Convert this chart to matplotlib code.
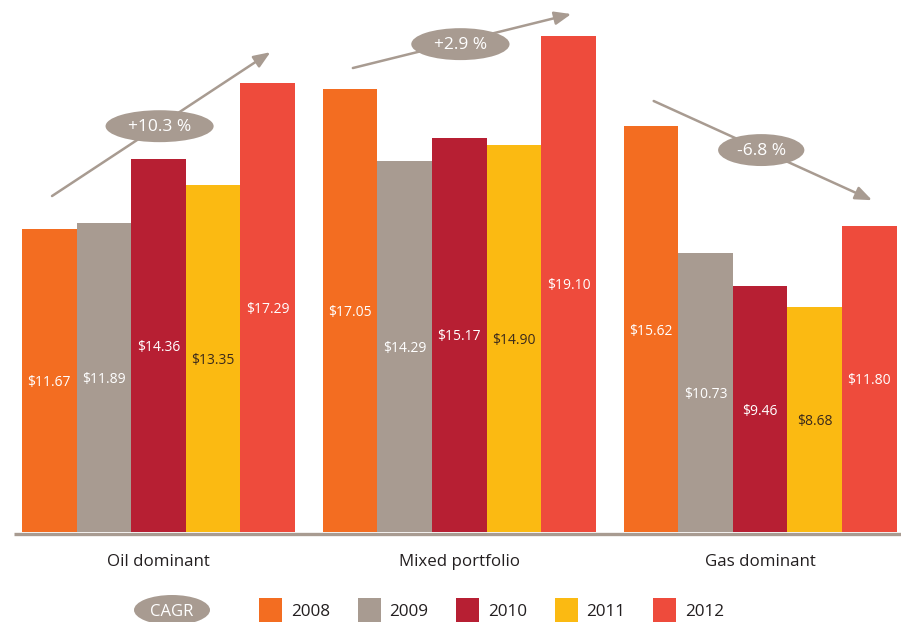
import matplotlib.pyplot as plt
from matplotlib.patches import Ellipse, Rectangle

plt.rcParams['font.family'] = ['Open Sans', 'DejaVu Sans']

# Dati
categorie = ["Oil dominant", "Mixed portfolio", "Gas dominant"]
anni = ["2008", "2009", "2010", "2011", "2012"]
valori_2008 = [11.67, 17.05, 15.62]
valori_2009 = [11.89, 14.29, 10.73]
valori_2010 = [14.36, 15.17, 9.46]
valori_2011 = [13.35, 14.90, 8.68]
valori_2012 = [17.29, 19.10, 11.80]
cagr = ["+10.3 %", "+2.9 %", "-6.8 %"]

serie = [valori_2008, valori_2009, valori_2010, valori_2011, valori_2012]
colori = ["#F36D21", "#A89B91", "#B71F33", "#FBBA12", "#EE4B3C"]
colori_testo = ["white", "white", "white", "#3b2a1c", "white"]
grigio = "#A89B91"

passo = 5.51  # distanza tra gruppi (larghezza barra = 1)


def fig_xy(px, py):
    return px / 901, 1 - py / 622


def main():
    fig = plt.figure(figsize=(9.01, 6.22), dpi=100)
    ax = fig.add_axes([0, 0, 1, 1])
    ax.set_xlim(-0.403, 16.1)
    ax.set_ylim(-3.466, 20.49)
    ax.axis("off")

    for j, (valori, colore, ct) in enumerate(zip(serie, colori, colori_testo)):
        xs = [g * passo + j for g in range(len(categorie))]
        barre = ax.bar(xs, valori, width=1.0, align="edge", color=colore, linewidth=0)
        for b, v in zip(barre, valori):
            ax.text(b.get_x() + 0.5, v / 2 - 0.07, f"${v:.2f}", ha="center", va="center",
                    fontsize=10, color=ct)

    # linea di base
    ax.plot([-0.15, 16.1], [-0.08, -0.08], color=grigio, lw=2.4, solid_capstyle="butt")

    for g, nome in enumerate(categorie):
        ax.text(g * passo + 2.5, -1.16, nome, ha="center", va="center", fontsize=12.2, color="#231f20")

    # frecce CAGR
    y_freccia = [(12.94, 18.48), (17.87, 19.95), (16.6, 12.78)]
    ell = [(15.63, 1.98), (18.79, 1.80), (14.71, 1.58)]
    for g in range(len(categorie)):
        x0 = g * passo + 0.55
        x1 = g * passo + 4.55
        y0, y1 = y_freccia[g]
        ax.annotate("", xy=(x1, y1), xytext=(x0, y0),
                    arrowprops=dict(arrowstyle="-|>,head_length=1.0,head_width=0.4",
                                    color=grigio, lw=1.8, shrinkA=0, shrinkB=0))
        ye, w = ell[g]
        xc = g * passo + 2.52
        ax.add_patch(Ellipse((xc, ye), w, 1.23, facecolor=grigio, edgecolor="none", zorder=3))
        ax.text(xc, ye - 0.03, cagr[g], ha="center", va="center", fontsize=12.5, color="white", zorder=4)

    # legenda
    xc, yc = fig_xy(172, 610)
    fig.add_artist(Ellipse((xc, yc), 76 / 901, 30 / 622, transform=fig.transFigure,
                           facecolor=grigio, edgecolor="none"))
    fig.text(xc, yc - 1.5 / 622, "CAGR", ha="center", va="center", fontsize=12, color="white")
    for k, (anno, colore) in enumerate(zip(anni, colori)):
        px = 259 + k * 98.5
        x, y = fig_xy(px, 622)
        fig.add_artist(Rectangle((x, y), 23 / 901, 24 / 622, transform=fig.transFigure,
                                 facecolor=colore, edgecolor="none"))
        tx, ty = fig_xy(px + 32, 611.5)
        fig.text(tx, ty, anno, ha="left", va="center", fontsize=12.3, color="#231f20")

    fig.savefig("out.png", dpi=100)


if __name__ == "__main__":
    main()
